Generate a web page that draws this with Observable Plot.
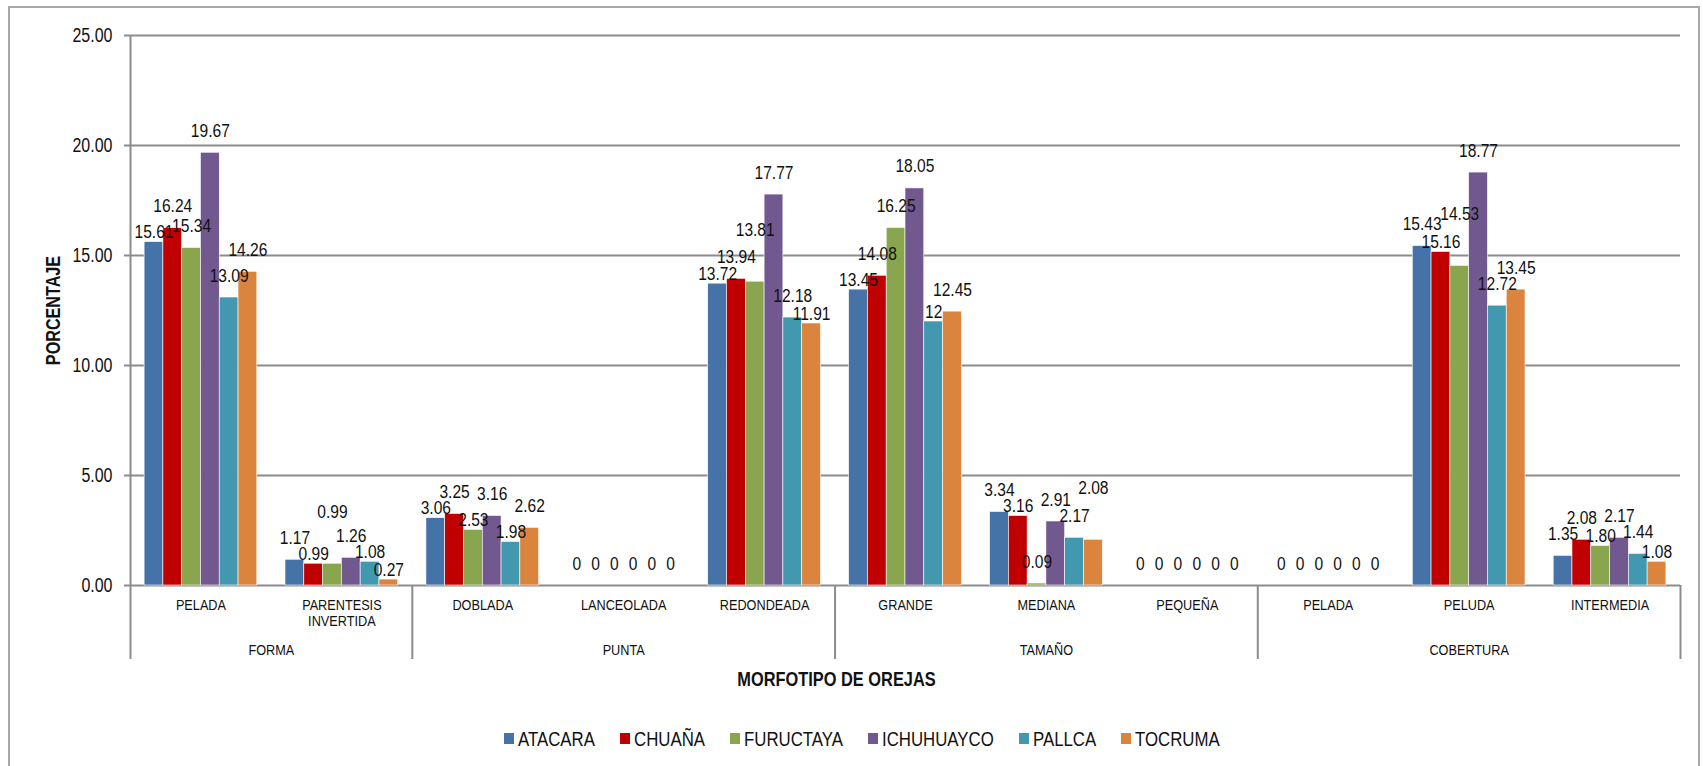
<!DOCTYPE html>
<html><head><meta charset="utf-8">
<script src="https://cdn.jsdelivr.net/npm/d3@7"></script>
<script src="https://cdn.jsdelivr.net/npm/@observablehq/plot@0.6"></script>
<style>
body{margin:0;background:#fff;font-family:"Liberation Sans",Arial,sans-serif;color:#111;}
#chart{position:absolute;left:0;top:0}
#frame{position:absolute;left:8px;top:6px;width:1692px;height:820px;border:2px solid #a8a8a8;box-sizing:border-box;pointer-events:none}
#legend{position:absolute;left:0;top:722px;width:1724px;display:flex;justify-content:center}
.lg-swatches{font-family:"Liberation Sans",Arial,sans-serif!important;font-size:20.5px!important;color:#111;margin:0!important}
.lg-swatch{margin-right:25px!important}
.lg-swatch:last-child{margin-right:0!important}
.lg-swatch > svg{margin-right:4px!important}
.narrow{display:inline-block;transform:scaleX(0.82);transform-origin:left center}
</style></head><body>
<div id="chart"></div><div id="legend"></div><div id="frame"></div>
<script>
const groups = ["FORMA", "PUNTA", "TAMAÑO", "COBERTURA"];
const categories = ["PELADA", "PARENTESIS\nINVERTIDA", "DOBLADA", "LANCEOLADA", "REDONDEADA", "GRANDE", "MEDIANA", "PEQUEÑA", "PELADA", "PELUDA", "INTERMEDIA"];
const categoryGroup = [0, 0, 1, 1, 1, 2, 2, 2, 3, 3, 3];
const series = ["ATACARA", "CHUAÑA", "FURUCTAYA", "ICHUHUAYCO", "PALLCA", "TOCRUMA"];
const colors = ["#4572A7", "#C00000", "#89A54E", "#71588F", "#4198AF", "#DB843D"];
const ATACARA    = [15.61, 1.17, 3.06, 0, 13.72, 13.45, 3.34, 0, 0, 15.43, 1.35];
const CHUANA     = [16.24, 0.99, 3.25, 0, 13.94, 14.08, 3.16, 0, 0, 15.16, 2.08];
const FURUCTAYA  = [15.34, 0.99, 2.53, 0, 13.81, 16.25, 0.09, 0, 0, 14.53, 1.80];
const ICHUHUAYCO = [19.67, 1.26, 3.16, 0, 17.77, 18.05, 2.91, 0, 0, 18.77, 2.17];
const PALLCA     = [13.09, 1.08, 1.98, 0, 12.18, 12, 2.17, 0, 0, 12.72, 1.44];
const TOCRUMA    = [14.26, 0.27, 2.62, 0, 11.91, 12.45, 2.08, 0, 0, 13.45, 1.08];
const yTicks = [0, 5, 10, 15, 20, 25];
const xTitle = "MORFOTIPO DE OREJAS";
const yTitle = "PORCENTAJE";

const seriesValues = [ATACARA, CHUANA, FURUCTAYA, ICHUHUAYCO, PALLCA, TOCRUMA];
const rows = [];
categories.forEach((c, i) => series.forEach((s, k) => rows.push({i, k, s, v: seriesValues[k][i]})));
const bw = 0.8 / series.length;
const bx1 = d => d.i + 0.1 + d.k * bw;
const fmt = v => Number.isInteger(v) ? String(v) : v.toFixed(2);
const centers = categories.map((c, i) => i + 0.5);
const boundaries = [0];
categoryGroup.forEach((g, i) => { if (i > 0 && g !== categoryGroup[i - 1]) boundaries.push(i); });
boundaries.push(categories.length);
const groupCenters = groups.map((g, gi) => (boundaries[gi] + boundaries[gi + 1]) / 2);
const yDomain = [yTicks[0], yTicks[yTicks.length - 1]];
const yMid = (yDomain[0] + yDomain[1]) / 2;

const FONT = '"Liberation Sans",Arial,sans-serif';
const H = 700, frameBottom = 585, frameTop = 35;
const grid = "#8c8c8c";
const LABEL_SIZE = 19, NARROW = 0.82;

// simple label collision avoidance within each category (tallest bars placed first)
function placeLabels(index, scales, values, dimensions, context, next) {
  const X = values.x, Y = Float64Array.from(values.y), T = values.text;
  const h = 15;
  const width = s => s.split("").reduce((a, c) => a + (c === "." ? 0.278 : 0.556), 0) * LABEL_SIZE * NARROW;
  const byCat = d3.group(index, i => rows[i].i);
  const steps = [0, -h, 12, -2 * h, -3 * h, -4 * h, -5 * h];
  for (const [, idx] of byCat) {
    const order = idx.slice().sort((a, b) => rows[b].v - rows[a].v || rows[a].k - rows[b].k);
    const placed = [];
    for (const i of order) {
      const wi = width(T[i]);
      const base = values.y[i];
      let y = base;
      for (const s of steps) {
        const cand = base + s;
        const hit = placed.some(j => Math.abs(X[j] - X[i]) < (wi + width(T[j])) / 2 - 3 && Math.abs(Y[j] - cand) < h);
        if (!hit) { y = cand; break; }
      }
      Y[i] = y;
      placed.push(i);
    }
  }
  return next(index, scales, {...values, y: Y}, dimensions, context);
}

const chart = Plot.plot({
  width: 1703, height: H,
  marginLeft: 130, marginRight: 23, marginTop: frameTop, marginBottom: H - frameBottom,
  style: {fontFamily: FONT, background: "transparent", color: "#111"},
  x: {domain: [0, categories.length], axis: null},
  y: {domain: yDomain, axis: null},
  color: {domain: series, range: colors},
  marks: [
    Plot.ruleY(yTicks, {stroke: grid, strokeWidth: 2}),
    Plot.axisY({ticks: yTicks, tickFormat: d3.format(".2f"), tickSize: 6, tickPadding: 12, fontSize: 19.5, stroke: grid, strokeWidth: 2, label: null}),
    Plot.ruleX([0], {stroke: grid, strokeWidth: 2}),
    Plot.axisX({ticks: boundaries, tickSize: 74, tickFormat: () => "", stroke: grid, strokeWidth: 2, label: null}),
    Plot.axisX({ticks: centers, tickSize: 0, tickPadding: 13, tickFormat: d => categories[Math.floor(d)], fontSize: 15.5, lineHeight: 1.05, label: null}),
    Plot.axisX({ticks: groupCenters, tickSize: 0, tickPadding: 58, tickFormat: d => groups[groupCenters.indexOf(d)], fontSize: 15.5, label: null}),
    Plot.rectY(rows, {x1: bx1, x2: d => bx1(d) + bw, y: "v", fill: "s", stroke: "white", strokeWidth: 0.6}),
    Plot.text(rows, {x: d => bx1(d) + bw / 2, y: "v", text: d => fmt(d.v), dy: -22, fontSize: LABEL_SIZE, fill: "#111", render: placeLabels}),
    Plot.text([xTitle], {frameAnchor: "bottom", lineAnchor: "middle", textAnchor: "middle", dy: 94, dx: -69, fontWeight: "bold", fontSize: 20, fill: "#111"}),
    Plot.text([yTitle], {x: () => 0, y: () => yMid, textAnchor: "middle", lineAnchor: "middle", rotate: -90, dx: -77, fontWeight: "bold", fontSize: 21, fill: "#111"})
  ]
});
document.getElementById("chart").append(chart);

// condense glyphs horizontally (Arial Narrow look) while keeping text as real text
chart.querySelectorAll("text").forEach(t => {
  const f = t.textContent === yTitle ? 0.77 : NARROW;
  const tr = t.getAttribute("transform");
  if (tr) t.setAttribute("transform", tr + ` scale(${f},1)`);
});

// make sure the rotated y title is centred on the middle of the y scale
const yt = [...chart.querySelectorAll("text")].find(t => t.textContent === yTitle);
if (yt) {
  const r = yt.getBoundingClientRect(), s = chart.getBoundingClientRect();
  const cur = r.top + r.height / 2 - s.top;
  const want = chart.scale("y").apply(yMid);
  const delta = want - cur;
  if (Math.abs(delta) > 0.5) yt.setAttribute("transform", `translate(0,${delta.toFixed(2)}) ` + yt.getAttribute("transform"));
}

const legend = Plot.legend({
  color: {domain: series, range: colors, type: "categorical"},
  legend: "swatches", swatchWidth: 10, swatchHeight: 11, className: "lg"
});
document.getElementById("legend").append(legend);
legend.querySelectorAll(".lg-swatch").forEach(sw => {
  const node = sw.lastChild;
  if (node && node.nodeType === 3) {
    const span = document.createElement("span");
    span.className = "narrow";
    span.textContent = node.textContent;
    sw.replaceChild(span, node);
    const w = span.getBoundingClientRect().width / NARROW;
    span.style.marginRight = (-(w * (1 - NARROW))).toFixed(2) + "px";
  }
});
</script>
</body></html>
